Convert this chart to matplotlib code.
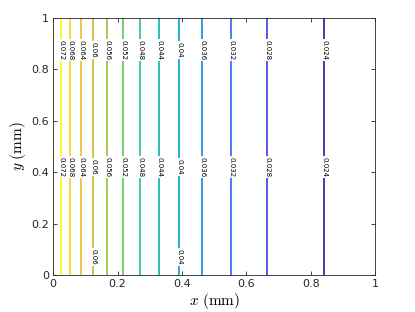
import numpy as np
import matplotlib

matplotlib.use("Agg")

import matplotlib.pyplot as plt  # noqa: E402
from matplotlib.colors import LinearSegmentedColormap  # noqa: E402

# contour levels and the x position (mm) where each one sits
levels = [0.024, 0.028, 0.032, 0.036, 0.040, 0.044, 0.048, 0.052, 0.056, 0.060, 0.064, 0.068, 0.072]
level_x = [0.842, 0.665, 0.553, 0.463, 0.391, 0.329, 0.270, 0.217, 0.168, 0.124, 0.087, 0.053, 0.025]
# field value at the two edges of the domain (estimated)
edge_x = [0.0, 1.0]
edge_val = [0.0765, 0.0205]

# extra labels near the bottom
low_label_levels = [0.060, 0.040]

# rough parula
parula = LinearSegmentedColormap.from_list(
    "parula",
    [
        (0.00, (0.2422, 0.1504, 0.6603)),
        (0.10, (0.2810, 0.3228, 0.9579)),
        (0.20, (0.1786, 0.5289, 0.9682)),
        (0.30, (0.0689, 0.6279, 0.8812)),
        (0.40, (0.0641, 0.7198, 0.7437)),
        (0.50, (0.2161, 0.7843, 0.5923)),
        (0.60, (0.4420, 0.8069, 0.3512)),
        (0.70, (0.6720, 0.7793, 0.2227)),
        (0.80, (0.9000, 0.7300, 0.2400)),
        (0.90, (0.9856, 0.8026, 0.1804)),
        (1.00, (0.9769, 0.9839, 0.0805)),
    ],
)

# build the field from the read positions (monotone in x, constant in y)
xs_known = [edge_x[0]] + level_x[::-1] + [edge_x[1]]
vals_known = [edge_val[0]] + levels[::-1] + [edge_val[1]]
x = np.linspace(0, 1, 801)
y = np.linspace(0, 1, 401)
X, Y = np.meshgrid(x, y)
Z = np.interp(X, xs_known, vals_known)

plt.rcParams["mathtext.fontset"] = "cm"
fig = plt.figure(figsize=(4.15, 3.12), dpi=100)
ax = fig.add_axes([0.128, 0.1186, 0.776, 0.8234])

cs = ax.contour(X, Y, Z, levels=levels, cmap=parula, vmin=levels[0], vmax=levels[-1], linewidths=1.3)

pos = {lv: lx for lv, lx in zip(levels, level_x)}
manual = [(lx, 0.875) for lx in level_x] + [(lx, 0.42) for lx in level_x]
manual += [(pos[lv], 0.07) for lv in low_label_levels]
ax.clabel(cs, manual=manual, fmt=lambda v: f"{v:g}", fontsize=5, inline=True, inline_spacing=1, colors="k")

ax.set_xlim(0, 1)
ax.set_ylim(0, 1)
ax.set_xticks(np.arange(0, 1.01, 0.2))
ax.set_yticks(np.arange(0, 1.01, 0.2))
ax.set_xticklabels(["0", "0.2", "0.4", "0.6", "0.8", "1"])
ax.set_yticklabels(["0", "0.2", "0.4", "0.6", "0.8", "1"])
ax.tick_params(direction="in", top=True, right=True, length=3, width=0.6,
               labelsize=8, colors="0.15", pad=3)
for sp in ax.spines.values():
    sp.set_color("0.15")
    sp.set_linewidth(0.6)

ax.set_xlabel(r"$x\ \mathrm{(mm)}$", fontsize=11, labelpad=1)
ax.set_ylabel(r"$y\ \mathrm{(mm)}$", fontsize=11, labelpad=2)

fig.savefig("out.png", dpi=100)
